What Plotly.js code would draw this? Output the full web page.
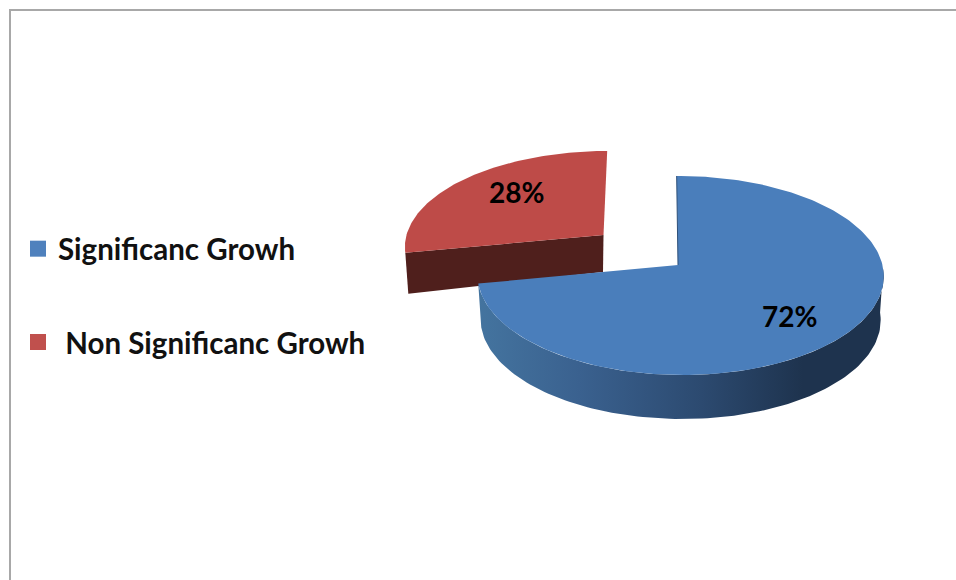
<!DOCTYPE html>
<html>
<head>
<meta charset="utf-8">
<script src="https://cdn.plot.ly/plotly-3.0.1.min.js"></script>
<style>html,body{margin:0;padding:0;background:#fff}#chart{width:956px;height:580px}</style>
</head>
<body>
<div id="chart"></div>
<script>
// Growth categories and their share of the total, in percent
const categories = ["Significanc Growh", "\u00a0Non Significanc Growh"];
const shares = [72, 28];
const topColors = ["#4a7ebb", "#be4b48"];
const legendColors = ["#4f81bd", "#c0504d"];

const TEXT_FONT = "Lato, Carlito, Calibri, sans-serif";

// Perspective model of a tilted disc: (u, v) on the unit circle maps to the page
function disc(o) {
  return function (deg, depth) {
    const t = deg * Math.PI / 180, u = Math.sin(t), v = Math.cos(t);
    return project(o, u, v, depth || 0);
  };
}
function project(o, u, v, depth) {
  const den = 1 + o.k * v + o.j * u;
  const sx = o.rx * u / den, sy = -o.ry * v / den;
  const s = 1 - 0.015 * (depth ? 1 : 0);
  return { x: o.cx + (sx + o.skew * -sy) * s, y: o.cy + sy + depth };
}
function arc(f, a, b, depth, n) {
  const pts = [];
  for (let i = 0; i <= n; i++) pts.push(f(a + (b - a) * i / n, depth));
  return pts;
}
const xs = p => p.map(q => q.x);
const ys = p => p.map(q => q.y);

const mainDisc = { cx: 678, cy: 265, rx: 202, ry: 98.4, k: 0.1055, j: -0.012, skew: -0.015 };
const pulledDisc = { cx: 603.5, cy: 235, rx: 197, ry: 92.9, k: 0.1055, j: 0, skew: 0.044 };
const rimDepth = 44;

const total = shares.reduce((a, b) => a + b, 0);
const mainEnd = shares[0] / total * 360;   // clockwise from twelve o'clock
const pulledEnd = 360;

const fMain = disc(mainDisc), fPulled = disc(pulledDisc);

// Pulled-out slice: cut wall first, then its top
const pTop = arc(fPulled, mainEnd, pulledEnd, 0, 90);
const pApex = project(pulledDisc, 0, 0, 0);
const pEnd = pTop[0];
const wall = [pApex, pEnd,
  { x: pEnd.x + 3, y: pEnd.y + 41 },
  { x: pApex.x - 0.5, y: pApex.y + 37 }];

// Main slice: outer rim below the top face
const rimTop = arc(fMain, 92, mainEnd, 0, 120);
const rimBottom = arc(fMain, mainEnd, 92, rimDepth, 120);
const rim = rimTop.concat(rimBottom);
const mTop = arc(fMain, 0, mainEnd, 0, 200);
const mApex = project(mainDisc, 0, 0, 0);

function poly(points, fill, extra) {
  const closed = points.concat([points[0]]);
  return Object.assign({
    type: "scatter", mode: "lines", x: xs(closed), y: ys(closed),
    fill: "toself", fillcolor: fill, line: { width: 0, color: fill },
    showlegend: false, hoverinfo: "skip"
  }, extra || {});
}

// Percentage labels sit at a set radial fraction along each slice's mid angle
function labelPos(o, startDeg, endDeg, fx, fy) {
  const t = (startDeg + endDeg) / 2 * Math.PI / 180;
  const u = Math.sin(t), v = Math.cos(t), den = 1 + o.k * v + o.j * u;
  return { x: o.cx + o.rx * u / den * fx, y: o.cy - o.ry * v / den * fy };
}
const lab0 = labelPos(mainDisc, 0, mainEnd, 0.663, 0.817);
const lab1 = labelPos(pulledDisc, mainEnd, pulledEnd, 0.61, 0.705);

const traces = [
  poly(wall, "#4f1f1c"),
  poly([pApex].concat(pTop), topColors[1]),
  poly(rim, "#2f4f77", {
    fillgradient: {
      type: "horizontal",
      colorscale: [[0, "#44749f"], [0.25, "#3a618f"], [0.55, "#2c4a70"], [0.8, "#1e334e"], [1, "#1e334e"]]
    }
  }),
  poly([mApex].concat(mTop), topColors[0]),
  {
    type: "scatter", mode: "lines", hoverinfo: "skip", showlegend: false,
    x: [mTop[0].x, mApex.x], y: [mTop[0].y, mApex.y],
    line: { color: "#2f5078", width: 1 }
  },
  {
    type: "scatter", mode: "text", hoverinfo: "skip", showlegend: false,
    x: [lab0.x, lab1.x], y: [lab0.y, lab1.y],
    text: shares.map(s => s + "%"), textposition: "middle center",
    textfont: { family: TEXT_FONT, size: 28, color: "#000", weight: 700 }
  }
];

// Legend entries, each in its own group so the gap between them can be opened up
categories.forEach((name, i) => {
  traces.push({
    type: "scatter", mode: "markers", x: [null], y: [null], name: name,
    legendgroup: "g" + i,
    marker: { symbol: "square", size: 16, color: legendColors[i], line: { width: 0 } }
  });
});

const layout = {
  width: 956, height: 580,
  margin: { l: 0, r: 0, t: 0, b: 0 },
  paper_bgcolor: "#fff", plot_bgcolor: "#fff",
  xaxis: { range: [0, 956], visible: false, fixedrange: true },
  yaxis: { range: [580, 0], visible: false, fixedrange: true },
  legend: {
    x: 18 / 956, y: 1 - 223 / 580, xanchor: "left", yanchor: "top",
    bgcolor: "rgba(0,0,0,0)", borderwidth: 0,
    tracegroupgap: 52, traceorder: "grouped",
    font: { family: TEXT_FONT, size: 29.5, color: "#111", weight: 700 }
  },
  shapes: [{
    type: "path", xref: "paper", yref: "paper",
    path: "M " + 10 / 956 + " 0 L " + 10 / 956 + " " + (1 - 10 / 580) + " L 1 " + (1 - 10 / 580),
    line: { color: "#a8a8a8", width: 2 }
  }],
  showlegend: true
};

Plotly.newPlot("chart", traces, layout, { displayModeBar: false, staticPlot: true });
</script>
</body>
</html>
